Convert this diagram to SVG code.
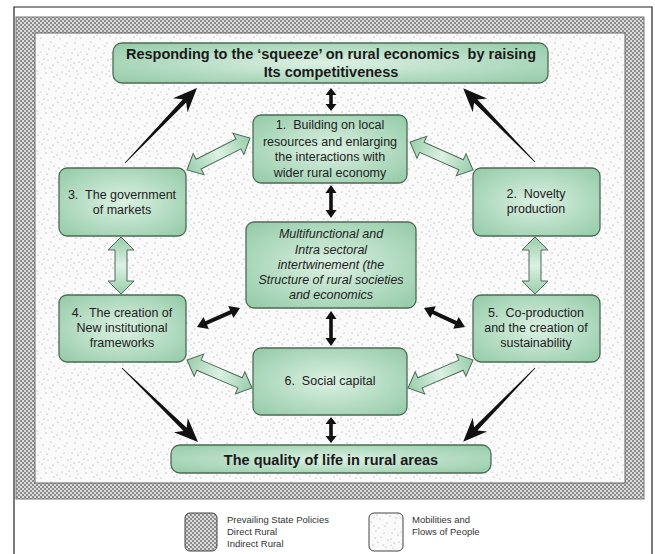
<svg xmlns="http://www.w3.org/2000/svg" width="655" height="554" viewBox="0 0 655 554">
<style>
.node{fill:url(#gGreen);stroke:#4d6a57;stroke-width:1.3}
.t{font-family:"Liberation Sans",Arial,sans-serif;font-size:12.5px;fill:#222;text-anchor:middle}
.ti{font-style:italic}
.tb{font-family:"Liberation Sans",Arial,sans-serif;font-size:14.5px;font-weight:bold;fill:#1a1a1a;text-anchor:middle}
.blk{fill:url(#gArrow);stroke:#4f6b58;stroke-width:1}
.dk{fill:#111;stroke:none}
.lg{font-family:"Liberation Sans",Arial,sans-serif;font-size:9.5px;fill:#333}
</style>
<defs>
<radialGradient id="gGreen" cx="50%" cy="50%" r="65%">
<stop offset="0" stop-color="#dcf1e3"/>
<stop offset="1" stop-color="#98cdab"/>
</radialGradient>
<linearGradient id="gArrow" x1="0" y1="0" x2="1" y2="0">
<stop offset="0" stop-color="#98cdab"/>
<stop offset="0.5" stop-color="#dcf1e3"/>
<stop offset="1" stop-color="#98cdab"/>
</linearGradient>
<pattern id="hatch" patternUnits="userSpaceOnUse" width="4" height="4">
<rect width="4" height="4" fill="#dcdcdc"/>
<rect width="2" height="2" fill="#8c8c8c"/>
<rect x="2" y="2" width="2" height="2" fill="#8c8c8c"/>
</pattern>
<pattern id="stip" patternUnits="userSpaceOnUse" width="40" height="40">
<rect width="40" height="40" fill="#fafafa"/>
<g fill="#999">
<circle cx="3" cy="5" r="0.6"/><circle cx="11" cy="2" r="0.6"/><circle cx="19" cy="8" r="0.6"/><circle cx="27" cy="3" r="0.6"/><circle cx="35" cy="9" r="0.6"/>
<circle cx="7" cy="14" r="0.6"/><circle cx="15" cy="18" r="0.6"/><circle cx="24" cy="13" r="0.6"/><circle cx="31" cy="19" r="0.6"/><circle cx="38" cy="15" r="0.6"/>
<circle cx="2" cy="24" r="0.6"/><circle cx="10" cy="28" r="0.6"/><circle cx="18" cy="22" r="0.6"/><circle cx="26" cy="27" r="0.6"/><circle cx="34" cy="23" r="0.6"/>
<circle cx="6" cy="33" r="0.6"/><circle cx="14" cy="37" r="0.6"/><circle cx="22" cy="32" r="0.6"/><circle cx="30" cy="36" r="0.6"/><circle cx="37" cy="31" r="0.6"/>
<circle cx="9" cy="9" r="0.6"/><circle cx="21" cy="17" r="0.6"/><circle cx="29" cy="31" r="0.6"/><circle cx="13" cy="25" r="0.6"/><circle cx="36" cy="38" r="0.6"/>
<circle cx="4" cy="19" r="0.6"/><circle cx="17" cy="35" r="0.6"/><circle cx="25" cy="6" r="0.6"/><circle cx="33" cy="28" r="0.6"/><circle cx="1" cy="38" r="0.6"/>
<circle cx="8" cy="20" r="0.5"/><circle cx="16" cy="11" r="0.5"/><circle cx="23" cy="25" r="0.5"/><circle cx="32" cy="13" r="0.5"/><circle cx="39" cy="22" r="0.5"/>
<circle cx="5" cy="28" r="0.5"/><circle cx="12" cy="32" r="0.5"/><circle cx="20" cy="39" r="0.5"/><circle cx="28" cy="20" r="0.5"/><circle cx="35" cy="3" r="0.5"/>
<circle cx="1" cy="12" r="0.5"/><circle cx="14" cy="6" r="0.5"/><circle cx="26" cy="34" r="0.5"/><circle cx="31" cy="25" r="0.5"/><circle cx="38" cy="34" r="0.5"/>
</g>
</pattern>
</defs>

<!-- background frame -->
<rect width="655" height="554" fill="#ffffff"/>
<path d="M14,554 V7 H652 V554" fill="none" stroke="#222" stroke-width="1.2"/>
<rect x="16" y="17" width="628" height="482" fill="url(#hatch)" stroke="#777" stroke-width="1"/>
<rect x="35" y="33" width="590" height="450" fill="url(#stip)" stroke="#666" stroke-width="1"/>

<!-- connectors -->
<g id="connectors">
  <path class="blk" transform="translate(187,170) rotate(-26.9)" d="M0,0 L13,-12 L13,-5.5 L57.7,-5.5 L57.7,-12 L70.7,0 L57.7,12 L57.7,5.5 L13,5.5 L13,12 Z"/>
  <path class="blk" transform="translate(410,142) rotate(24)" d="M0,0 L13,-12 L13,-5.5 L56,-5.5 L56,-12 L69,0 L56,12 L56,5.5 L13,5.5 L13,12 Z"/>
  <path class="blk" transform="translate(187,360) rotate(23.3)" d="M0,0 L13,-12 L13,-5.5 L57.8,-5.5 L57.8,-12 L70.8,0 L57.8,12 L57.8,5.5 L13,5.5 L13,12 Z"/>
  <path class="blk" transform="translate(408,388) rotate(-23.3)" d="M0,0 L13,-12 L13,-5.5 L57.8,-5.5 L57.8,-12 L70.8,0 L57.8,12 L57.8,5.5 L13,5.5 L13,12 Z"/>
  <path class="blk" transform="translate(121,237) rotate(90)" d="M0,0 L13,-13 L13,-6 L44,-6 L44,-13 L57,0 L44,13 L44,6 L13,6 L13,13 Z"/>
  <path class="blk" transform="translate(535,237) rotate(90)" d="M0,0 L13,-13 L13,-6 L44,-6 L44,-13 L57,0 L44,13 L44,6 L13,6 L13,13 Z"/>

  <path class="dk" transform="translate(331,88) rotate(90)" d="M0,0 L7,-5.5 L7,-1.8 L16,-1.8 L16,-5.5 L23,0 L16,5.5 L16,1.8 L7,1.8 L7,5.5 Z"/>
  <path class="dk" transform="translate(331,185) rotate(90)" d="M0,0 L8,-5.5 L8,-1.8 L25,-1.8 L25,-5.5 L33,0 L25,5.5 L25,1.8 L8,1.8 L8,5.5 Z"/>
  <path class="dk" transform="translate(331,311) rotate(90)" d="M0,0 L8,-5.5 L8,-1.8 L27,-1.8 L27,-5.5 L35,0 L27,5.5 L27,1.8 L8,1.8 L8,5.5 Z"/>
  <path class="dk" transform="translate(331,417) rotate(90)" d="M0,0 L7,-5.5 L7,-1.8 L19,-1.8 L19,-5.5 L26,0 L19,5.5 L19,1.8 L7,1.8 L7,5.5 Z"/>
  <path class="dk" transform="translate(197,327) rotate(-23.8)" d="M0,0 L10,-6.5 L10,-2 L37,-2 L37,-6.5 L47,0 L37,6.5 L37,2 L10,2 L10,6.5 Z"/>
  <path class="dk" transform="translate(424,308) rotate(24.9)" d="M0,0 L10,-6.5 L10,-2 L35.2,-2 L35.2,-6.5 L45.2,0 L35.2,6.5 L35.2,2 L10,2 L10,6.5 Z"/>

  <path class="dk" transform="translate(125,163) rotate(-46.2)" d="M0,-0.4 L86,-2.3 L80,-10 L104,0 L80,10 L86,2.3 L0,0.4 Z"/>
  <path class="dk" transform="translate(535,162) rotate(-134.2)" d="M0,-0.4 L85,-2.3 L79,-10 L103,0 L79,10 L85,2.3 L0,0.4 Z"/>
  <path class="dk" transform="translate(122,368) rotate(44.2)" d="M0,-0.4 L88,-2.3 L82,-10 L106,0 L82,10 L88,2.3 L0,0.4 Z"/>
  <path class="dk" transform="translate(535,368) rotate(134.2)" d="M0,-0.4 L85,-2.3 L79,-10 L103,0 L79,10 L85,2.3 L0,0.4 Z"/>
</g>

<!-- nodes -->
<g id="n-top">
  <rect class="node" x="113" y="43" width="435" height="40" rx="9"/>
  <text class="tb" x="331" y="59" xml:space="preserve">Responding to the ‘squeeze’ on rural economics  by raising</text>
  <text class="tb" x="331" y="77">Its competitiveness</text>
</g>
<g id="n1">
  <rect class="node" x="253" y="115" width="154" height="68" rx="8"/>
  <text class="t" x="330" y="129" xml:space="preserve">1.  Building on local</text>
  <text class="t" x="330" y="146">resources and enlarging</text>
  <text class="t" x="330" y="161">the interactions with</text>
  <text class="t" x="330" y="177">wider rural economy</text>
</g>
<g id="n3">
  <rect class="node" x="59" y="168" width="127" height="68" rx="8"/>
  <text class="t" x="122" y="199" xml:space="preserve">3.  The government</text>
  <text class="t" x="122" y="214">of markets</text>
</g>
<g id="n2">
  <rect class="node" x="473" y="168" width="127" height="68" rx="8"/>
  <text class="t" x="536" y="198" xml:space="preserve">2.  Novelty</text>
  <text class="t" x="536" y="213">production</text>
</g>
<g id="n-center">
  <rect class="node" x="246" y="222" width="170" height="86" rx="8"/>
  <text class="t ti" x="331" y="238">Multifunctional and</text>
  <text class="t ti" x="331" y="254">Intra sectoral</text>
  <text class="t ti" x="331" y="269">intertwinement (the</text>
  <text class="t ti" x="331" y="284">Structure of rural societies</text>
  <text class="t ti" x="331" y="299">and economics</text>
</g>
<g id="n4">
  <rect class="node" x="59" y="295" width="127" height="67" rx="8"/>
  <text class="t" x="122" y="317" xml:space="preserve">4.  The creation of</text>
  <text class="t" x="122" y="332">New institutional</text>
  <text class="t" x="122" y="347">frameworks</text>
</g>
<g id="n5">
  <rect class="node" x="473" y="295" width="127" height="67" rx="8"/>
  <text class="t" x="536" y="317" xml:space="preserve">5.  Co-production</text>
  <text class="t" x="536" y="332">and the creation of</text>
  <text class="t" x="536" y="347">sustainability</text>
</g>
<g id="n6">
  <rect class="node" x="253" y="348" width="154" height="67" rx="8"/>
  <text class="t" x="330" y="385" xml:space="preserve">6.  Social capital</text>
</g>
<g id="n-bottom">
  <rect class="node" x="171" y="445" width="320" height="28" rx="9"/>
  <text class="tb" x="331" y="465">The quality of life in rural areas</text>
</g>

<!-- legend -->
<g id="legend">
  <rect x="185" y="513" width="32" height="38" rx="5" fill="url(#hatch)" stroke="#444" stroke-width="1"/>
  <text class="lg" x="227" y="523">Prevailing State Policies</text>
  <text class="lg" x="227" y="535">Direct Rural</text>
  <text class="lg" x="227" y="547">Indirect Rural</text>
  <rect x="369" y="513" width="34" height="38" rx="5" fill="url(#stip)" stroke="#444" stroke-width="1"/>
  <text class="lg" x="412" y="523">Mobilities and</text>
  <text class="lg" x="412" y="535">Flows of People</text>
</g>
</svg>
